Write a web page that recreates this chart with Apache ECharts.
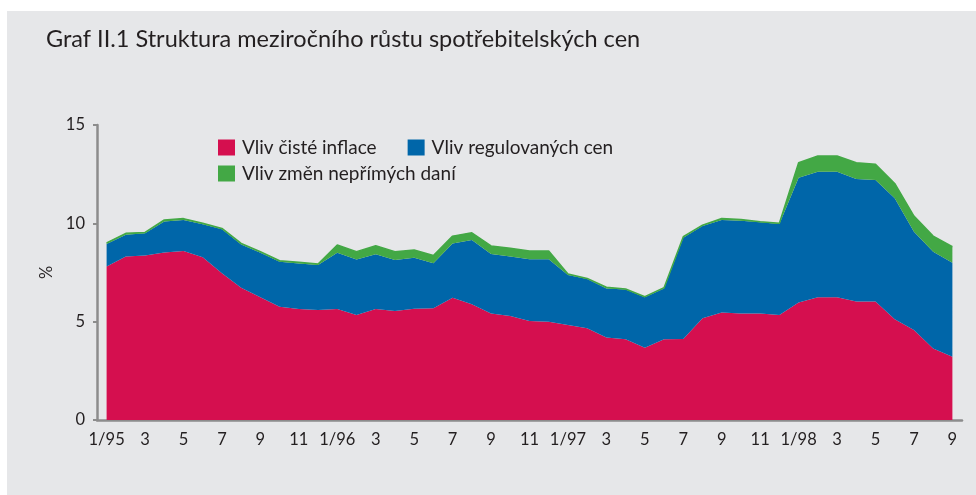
<!DOCTYPE html>
<html>
<head>
<meta charset="utf-8">
<script src="https://cdn.jsdelivr.net/npm/echarts@6/dist/echarts.min.js"></script>
<style>
  html, body { margin: 0; padding: 0; background: #fff; }
  #chart { width: 976px; height: 495px; }
</style>
</head>
<body>
<div id="chart"></div>
<script>
// months 1/95 .. 9/98
const months = [
  '1/95', '2', '3', '4', '5', '6', '7', '8', '9', '10', '11', '12',
  '1/96', '2', '3', '4', '5', '6', '7', '8', '9', '10', '11', '12',
  '1/97', '2', '3', '4', '5', '6', '7', '8', '9', '10', '11', '12',
  '1/98', '2', '3', '4', '5', '6', '7', '8', '9'
];

const cistaInflace = [
  7.80, 8.31, 8.36, 8.52, 8.59, 8.27, 7.46, 6.73, 6.24, 5.76, 5.64, 5.59,
  5.64, 5.34, 5.64, 5.54, 5.66, 5.68, 6.22, 5.88, 5.42, 5.29, 5.03, 5.00,
  4.83, 4.66, 4.20, 4.10, 3.68, 4.10, 4.12, 5.17, 5.46, 5.42, 5.42, 5.34,
  5.97, 6.24, 6.24, 6.02, 6.02, 5.12, 4.58, 3.64, 3.22
];

const regulovaneCeny = [
  1.15, 1.11, 1.13, 1.57, 1.58, 1.68, 2.24, 2.20, 2.26, 2.29, 2.32, 2.29,
  2.86, 2.82, 2.79, 2.59, 2.59, 2.29, 2.76, 3.27, 3.02, 3.02, 3.14, 3.18,
  2.54, 2.51, 2.49, 2.54, 2.56, 2.59, 5.15, 4.69, 4.71, 4.71, 4.63, 4.62,
  6.35, 6.38, 6.38, 6.23, 6.18, 6.15, 4.99, 4.92, 4.78
];

const neprimeDane = [
  0.06, 0.07, 0.05, 0.08, 0.07, 0.05, 0.04, 0.05, 0.06, 0.05, 0.06, 0.05,
  0.40, 0.40, 0.43, 0.43, 0.39, 0.39, 0.37, 0.37, 0.41, 0.42, 0.42, 0.41,
  0.05, 0.03, 0.06, 0.02, 0.03, 0.04, 0.05, 0.05, 0.08, 0.07, 0.03, 0.04,
  0.76, 0.80, 0.80, 0.83, 0.80, 0.76, 0.80, 0.79, 0.81
];

const yTicks = [0, 5, 10, 15];

const RED = '#D50F4F';
const BLUE = '#0066A9';
const GREEN = '#43A845';
const FONT = 'Lato';

const chart = echarts.init(document.getElementById('chart'));

function areaSeries(name, data, color, lineW) {
  return {
    name: name,
    type: 'line',
    stack: 'cpi',
    data: data,
    symbol: 'none',
    smooth: false,
    lineStyle: { width: lineW, color: color },
    itemStyle: { color: color },
    areaStyle: { color: color, opacity: 1 },
    emphasis: { disabled: true },
    z: 2
  };
}

const legendText = { fontSize: 19, color: '#231F20', fontFamily: FONT, padding: [0, 0, 0, 2] };

chart.setOption({
  backgroundColor: '#ffffff',
  animation: false,
  textStyle: { fontFamily: FONT },
  graphic: [
    {
      type: 'rect',
      z: -10,
      silent: true,
      shape: { x: 7, y: 11, width: 976, height: 495 },
      style: { fill: '#E6E7E9' }
    },
    {
      type: 'text',
      left: 46,
      top: 27,
      style: {
        text: 'Graf II.1 Struktura meziročního růstu spotřebitelských cen',
        font: '23.5px ' + FONT,
        fill: '#231F20'
      }
    }
  ],
  legend: [
    {
      data: ['Vliv čisté inflace', 'Vliv regulovaných cen'],
      left: 213,
      top: 133,
      itemWidth: 17,
      itemHeight: 16,
      itemGap: 31,
      icon: 'rect',
      textStyle: legendText
    },
    {
      data: ['Vliv změn nepřímých daní'],
      left: 213,
      top: 159,
      itemWidth: 17,
      itemHeight: 16,
      icon: 'rect',
      textStyle: legendText
    }
  ],
  grid: { left: 97, right: 14, top: 125, bottom: 75 },
  xAxis: {
    type: 'category',
    data: months,
    boundaryGap: true,
    axisLine: { lineStyle: { color: '#8C8C8C', width: 2.5 } },
    axisTick: { interval: 0, length: 4, lineStyle: { color: '#8C8C8C', width: 2 } },
    axisLabel: {
      interval: 1,
      fontSize: 16.5,
      color: '#231F20',
      margin: 11,
      fontFamily: FONT
    },
    splitLine: { show: false }
  },
  yAxis: {
    type: 'value',
    min: yTicks[0],
    max: yTicks[yTicks.length - 1],
    interval: 5,
    name: '%',
    nameLocation: 'middle',
    nameGap: 42,
    nameRotate: 90,
    nameTextStyle: { fontSize: 16.5, color: '#231F20', fontFamily: FONT },
    axisLine: { show: true, lineStyle: { color: '#8C8C8C', width: 2.5 } },
    axisTick: { show: true, length: 4, lineStyle: { color: '#8C8C8C', width: 2 } },
    axisLabel: { fontSize: 16.5, color: '#231F20', margin: 12, fontFamily: FONT },
    splitLine: { show: false }
  },
  series: [
    areaSeries('Vliv čisté inflace', cistaInflace, RED, 0),
    areaSeries('Vliv regulovaných cen', regulovaneCeny, BLUE, 0),
    areaSeries('Vliv změn nepřímých daní', neprimeDane, GREEN, 1.5)
  ]
});
</script>
</body>
</html>
